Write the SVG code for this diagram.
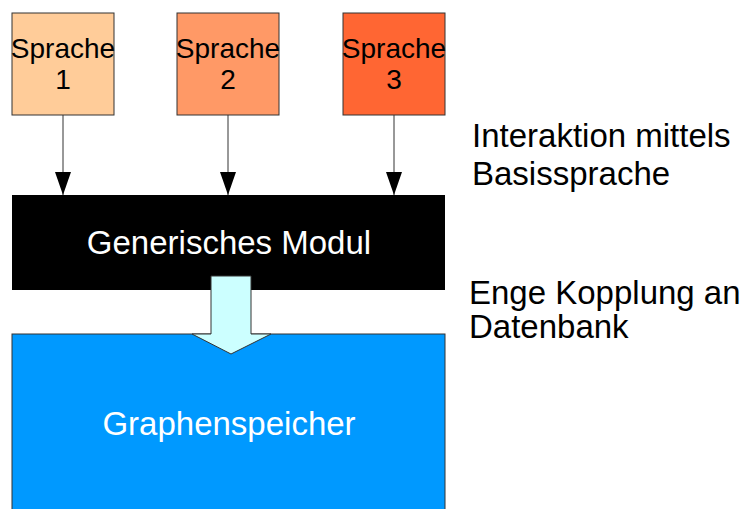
<svg xmlns="http://www.w3.org/2000/svg" width="744" height="509" viewBox="0 0 744 509">
  <style>
    text { font-family: "Liberation Sans", Arial, sans-serif; }
    .lang rect { stroke: #333333; stroke-width: 1; }
    .lang text { font-size: 28px; fill: #000000; text-anchor: middle; }
    .big { font-size: 33px; }
    .mid { text-anchor: middle; }
    .flow line { stroke: #333333; stroke-width: 1; }
  </style>
  <defs>
    <!-- filled triangular arrowhead, 23 long and 16 wide -->
    <marker id="head" viewBox="0 0 23 16" refX="23" refY="8" markerWidth="23" markerHeight="16" markerUnits="userSpaceOnUse" orient="auto">
      <path d="M0,0 L23,8 L0,16 Z" fill="#000000"/>
    </marker>
  </defs>

  <rect x="0" y="0" width="744" height="509" fill="#ffffff"/>

  <!-- storage layer -->
  <g id="graphenspeicher">
    <rect x="12" y="334" width="433" height="190" fill="#0099ff" stroke="#333333" stroke-width="1"/>
    <text x="229" y="435" class="big mid" fill="#ffffff">Graphenspeicher</text>
  </g>

  <!-- generic module -->
  <g id="modul">
    <rect x="12" y="195" width="433" height="95" fill="#000000"/>
    <text x="229" y="254" class="big mid" fill="#ffffff">Generisches Modul</text>
  </g>

  <!-- language boxes -->
  <g id="sprache1" class="lang">
    <rect x="12" y="13" width="102" height="102" fill="#ffcc99"/>
    <text x="63" y="58">Sprache</text>
    <text x="63" y="89">1</text>
  </g>
  <g id="sprache2" class="lang">
    <rect x="177" y="13" width="102" height="102" fill="#ff9966"/>
    <text x="228" y="58">Sprache</text>
    <text x="228" y="89">2</text>
  </g>
  <g id="sprache3" class="lang">
    <rect x="343" y="13" width="102" height="102" fill="#ff6633"/>
    <text x="394" y="58">Sprache</text>
    <text x="394" y="89">3</text>
  </g>

  <!-- connectors -->
  <g id="connectors" class="flow">
    <line x1="63" y1="115" x2="63" y2="195" marker-end="url(#head)"/>
    <line x1="228" y1="115" x2="228" y2="195" marker-end="url(#head)"/>
    <line x1="394" y1="115" x2="394" y2="195" marker-end="url(#head)"/>
    <path d="M211,276 L251,276 L251,334 L271,334 L231,354 L192,334 L211,334 Z" fill="#ccffff" stroke="#333333" stroke-width="1"/>
  </g>

  <!-- annotations -->
  <g id="annotation-interaktion">
    <text x="472" y="147" class="big" fill="#000000">Interaktion mittels</text>
    <text x="472" y="185" class="big" fill="#000000">Basissprache</text>
  </g>
  <g id="annotation-kopplung">
    <text x="469" y="304" class="big" fill="#000000">Enge Kopplung an</text>
    <text x="469" y="338" class="big" fill="#000000">Datenbank</text>
  </g>
</svg>
